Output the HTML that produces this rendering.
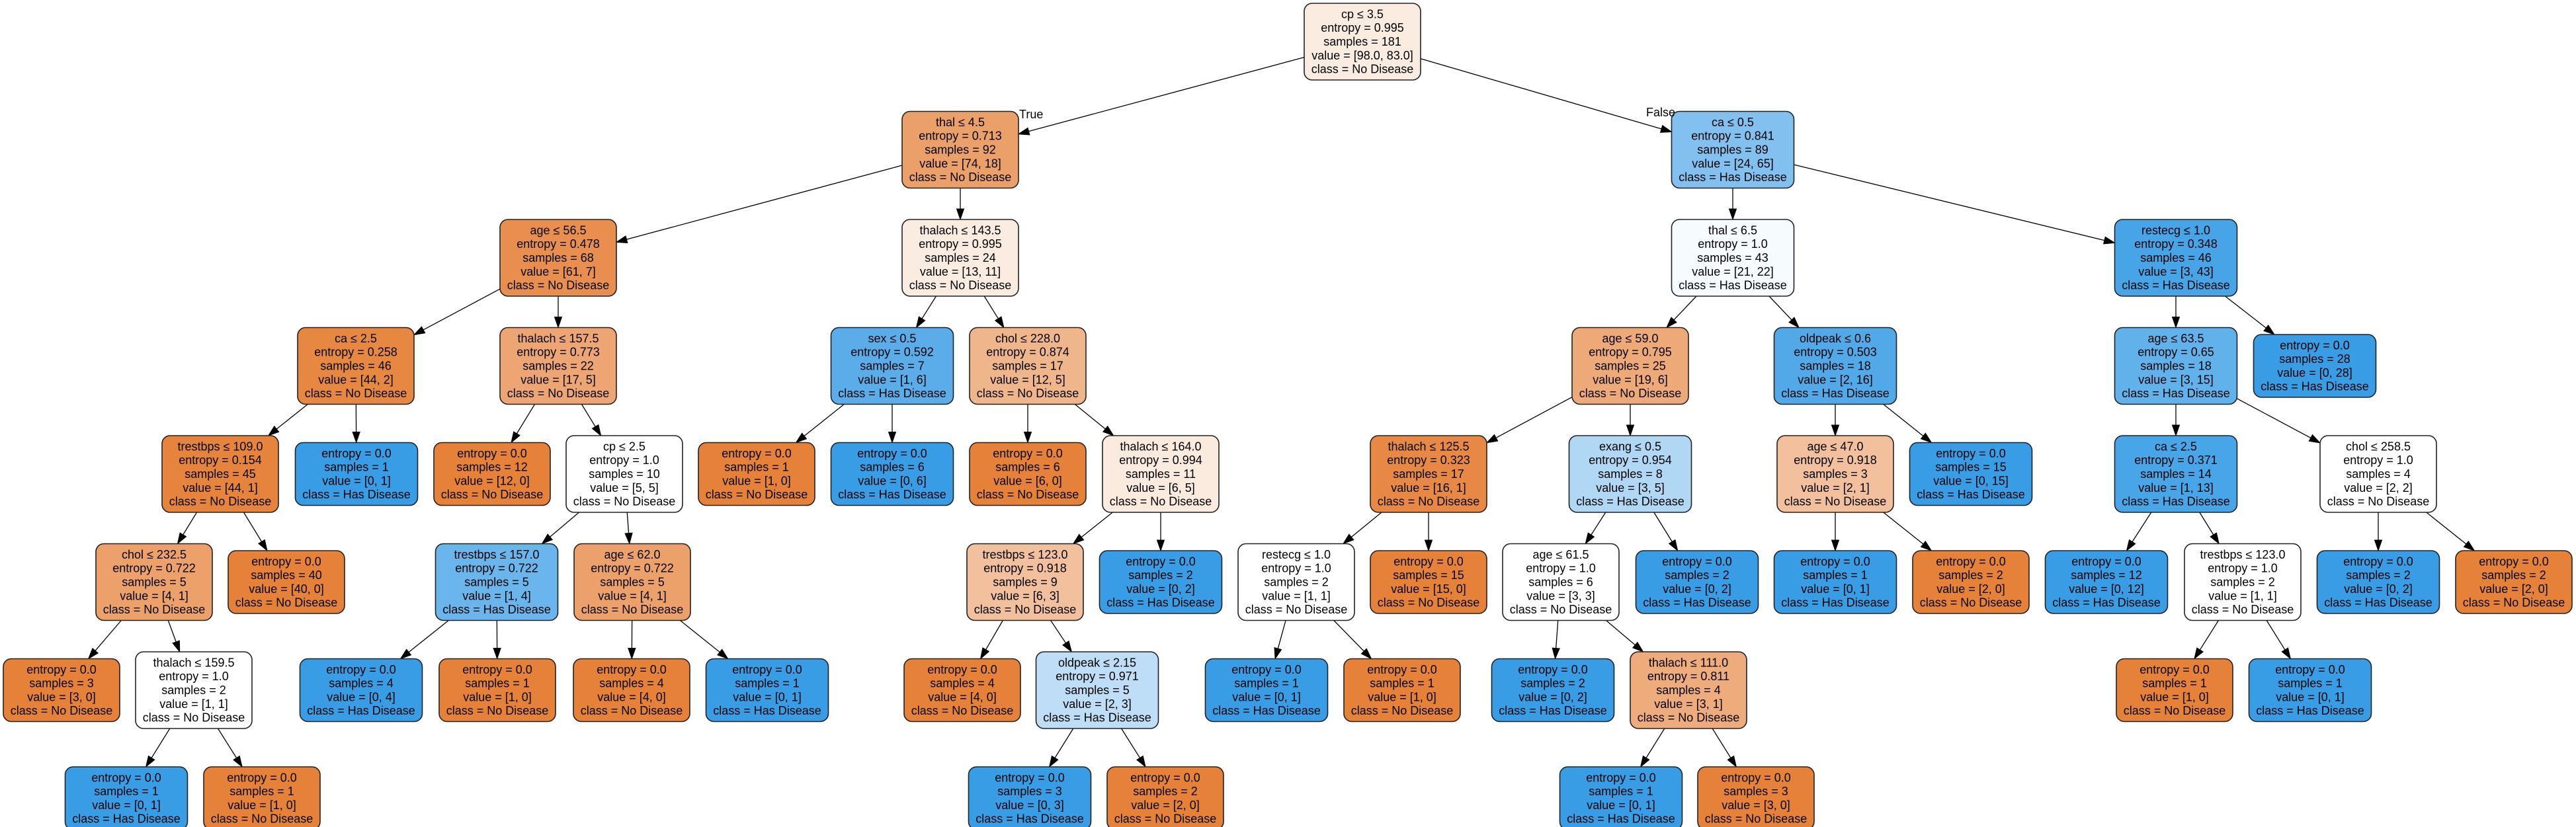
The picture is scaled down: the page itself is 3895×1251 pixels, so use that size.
<!DOCTYPE html>
<html><head><meta charset="utf-8">
<style>
html,body{margin:0;padding:0;background:#fff;}
svg{display:block;}
text{font-family:"Liberation Sans",Arial,sans-serif;font-size:18px;fill:#000;}
</style></head>
<body>
<svg id="s" width="3895" height="1251" xmlns="http://www.w3.org/2000/svg"></svg>
<script>
var N=[
// id,row,cx,split,entropy,samples,value,parent
["r",0,2060,"cp ≤ 3.5","0.995","181",[98,83],null,true],
["A",1,1452,"thal ≤ 4.5","0.713","92",[74,18],"r"],
["B",1,2620,"ca ≤ 0.5","0.841","89",[24,65],"r"],
["A1",2,844,"age ≤ 56.5","0.478","68",[61,7],"A"],
["A2",2,1452,"thalach ≤ 143.5","0.995","24",[13,11],"A"],
["B1",2,2620,"thal ≤ 6.5","1.0","43",[21,22],"B"],
["B2",2,3290,"restecg ≤ 1.0","0.348","46",[3,43],"B"],
["A1a",3,538,"ca ≤ 2.5","0.258","46",[44,2],"A1"],
["A1b",3,844,"thalach ≤ 157.5","0.773","22",[17,5],"A1"],
["A2a",3,1349,"sex ≤ 0.5","0.592","7",[1,6],"A2"],
["A2b",3,1554,"chol ≤ 228.0","0.874","17",[12,5],"A2"],
["B1a",3,2465,"age ≤ 59.0","0.795","25",[19,6],"B1"],
["B1b",3,2775,"oldpeak ≤ 0.6","0.503","18",[2,16],"B1"],
["B2a",3,3290,"age ≤ 63.5","0.65","18",[3,15],"B2"],
["B2b",3,3500,null,"0.0","28",[0,28],"B2"],
["A1a1",4,333,"trestbps ≤ 109.0","0.154","45",[44,1],"A1a"],
["A1a2",4,539,null,"0.0","1",[0,1],"A1a"],
["A1b1",4,744,null,"0.0","12",[12,0],"A1b"],
["A1b2",4,944,"cp ≤ 2.5","1.0","10",[5,5],"A1b"],
["A2a1",4,1144,null,"0.0","1",[1,0],"A2a"],
["A2a2",4,1349,null,"0.0","6",[0,6],"A2a"],
["A2b1",4,1554,null,"0.0","6",[6,0],"A2b"],
["A2b2",4,1755,"thalach ≤ 164.0","0.994","11",[6,5],"A2b"],
["B1a1",4,2160,"thalach ≤ 125.5","0.323","17",[16,1],"B1a"],
["B1a2",4,2465,"exang ≤ 0.5","0.954","8",[3,5],"B1a"],
["B1b1",4,2775,"age ≤ 47.0","0.918","3",[2,1],"B1b"],
["B1b2",4,2980,null,"0.0","15",[0,15],"B1b"],
["B2a1",4,3290,"ca ≤ 2.5","0.371","14",[1,13],"B2a"],
["B2a2",4,3596,"chol ≤ 258.5","1.0","4",[2,2],"B2a"],
["c1",5,233,"chol ≤ 232.5","0.722","5",[4,1],"A1a1"],
["c2",5,433,null,"0.0","40",[40,0],"A1a1"],
["c3",5,751,"trestbps ≤ 157.0","0.722","5",[1,4],"A1b2"],
["c4",5,956,"age ≤ 62.0","0.722","5",[4,1],"A1b2"],
["c5",5,1550,"trestbps ≤ 123.0","0.918","9",[6,3],"A2b2"],
["c6",5,1755,null,"0.0","2",[0,2],"A2b2"],
["c7",5,1960,"restecg ≤ 1.0","1.0","2",[1,1],"B1a1"],
["c8",5,2160,null,"0.0","15",[15,0],"B1a1"],
["c9",5,2360,"age ≤ 61.5","1.0","6",[3,3],"B1a2"],
["c10",5,2566,null,"0.0","2",[0,2],"B1a2"],
["c11",5,2775,null,"0.0","1",[0,1],"B1b1"],
["c12",5,2980,null,"0.0","2",[2,0],"B1b1"],
["c13",5,3185,null,"0.0","12",[0,12],"B2a1"],
["c14",5,3391,"trestbps ≤ 123.0","1.0","2",[1,1],"B2a1"],
["c15",5,3596,null,"0.0","2",[0,2],"B2a2"],
["c16",5,3801,null,"0.0","2",[2,0],"B2a2"],
["d1",6,93,null,"0.0","3",[3,0],"c1"],
["d2",6,293,"thalach ≤ 159.5","1.0","2",[1,1],"c1"],
["d3",6,546,null,"0.0","4",[0,4],"c3"],
["d4",6,752,null,"0.0","1",[1,0],"c3"],
["d5",6,955,null,"0.0","4",[4,0],"c4"],
["d6",6,1160,null,"0.0","1",[0,1],"c4"],
["d7",6,1455,null,"0.0","4",[4,0],"c5"],
["d8",6,1659,"oldpeak ≤ 2.15","0.971","5",[2,3],"c5"],
["d9",6,1915,null,"0.0","1",[0,1],"c7"],
["d10",6,2120,null,"0.0","1",[1,0],"c7"],
["d11",6,2348,null,"0.0","2",[0,2],"c9"],
["d12",6,2553,"thalach ≤ 111.0","0.811","4",[3,1],"c9"],
["d13",6,3288,null,"0.0","1",[1,0],"c14"],
["d14",6,3493,null,"0.0","1",[0,1],"c14"],
["e1",7,191,null,"0.0","1",[0,1],"d2"],
["e2",7,396,null,"0.0","1",[1,0],"d2"],
["e3",7,1557,null,"0.0","3",[0,3],"d8"],
["e4",7,1762,null,"0.0","2",[2,0],"d8"],
["e5",7,2451,null,"0.0","1",[0,1],"d12"],
["e6",7,2655,null,"0.0","3",[3,0],"d12"]
];
var svg=document.getElementById('s'),NS="http://www.w3.org/2000/svg";
function el(t,a,txt){var e=document.createElementNS(NS,t);for(var k in a)e.setAttribute(k,a[k]);if(txt!=null)e.textContent=txt;svg.appendChild(e);return e;}
var M={};
N.forEach(function(n){
  var v=n[6],t=v[0]+v[1],f0=v[0]/t,f1=v[1]/t;
  var cls=v[1]>v[0]?1:0;
  var hi=Math.max(f0,f1),lo=Math.min(f0,f1);
  var a=hi===lo?0:(hi-lo)/(1-lo);
  var base=cls?[57,157,229]:[229,129,57];
  var c=base.map(function(x){return Math.round(255-a*(255-x));});
  var leaf=!n[3];
  var w=cls?185:176,h=leaf?95:116;
  var top=5+163.5*n[1]+(leaf?10.5:0);
  var vs=n[8]?"["+v[0]+".0, "+v[1]+".0]":"["+v[0]+", "+v[1]+"]";
  var lines=[];
  if(!leaf)lines.push(n[3]);
  lines.push("entropy = "+n[4],"samples = "+n[5],"value = "+vs,"class = "+(cls?"Has Disease":"No Disease"));
  M[n[0]]={cx:n[2],cy:top+h/2,w:w,h:h,top:top,fill:"rgb("+c.join(",")+")",lines:lines,p:n[7]};
});
function clip(b,dx,dy){ // distance scale to box edge from center along dir
  var sx=dx?(b.w/2)/Math.abs(dx):1e9, sy=dy?(b.h/2)/Math.abs(dy):1e9;return Math.min(sx,sy);}
// edges
for(var k in M){var c=M[k];if(!c.p)continue;var p=M[c.p];
  var dx=c.cx-p.cx,dy=c.cy-p.cy;
  var s0=clip(p,dx,dy),s1=clip(c,dx,dy);
  var x0=p.cx+dx*s0,y0=p.cy+dy*s0,x1=c.cx-dx*s1,y1=c.cy-dy*s1;
  var L=Math.sqrt((x1-x0)*(x1-x0)+(y1-y0)*(y1-y0)),ux=(x1-x0)/L,uy=(y1-y0)/L;
  var al=16,aw=5.5;
  var bx=x1-ux*al,by=y1-uy*al;
  el('line',{x1:x0,y1:y0,x2:bx,y2:by,stroke:'#000','stroke-width':1.3});
  el('polygon',{points:x1+","+y1+" "+(bx-uy*aw)+","+(by+ux*aw)+" "+(bx+uy*aw)+","+(by-ux*aw),fill:'#000',stroke:'#000','stroke-width':1});
}
for(var k in M){var b=M[k];
  el('rect',{x:b.cx-b.w/2,y:b.top,width:b.w,height:b.h,rx:12,ry:12,fill:b.fill,stroke:'#222','stroke-width':1.6});
  var n=b.lines.length,y0=b.cy-(n-1)*20.8/2+6;
  b.lines.forEach(function(t,i){el('text',{x:b.cx,y:y0+i*20.8,'text-anchor':'middle'},t);});
}
el('text',{x:1541,y:179},"True");
el('text',{x:2489,y:176},"False");
</script>
</body></html>
